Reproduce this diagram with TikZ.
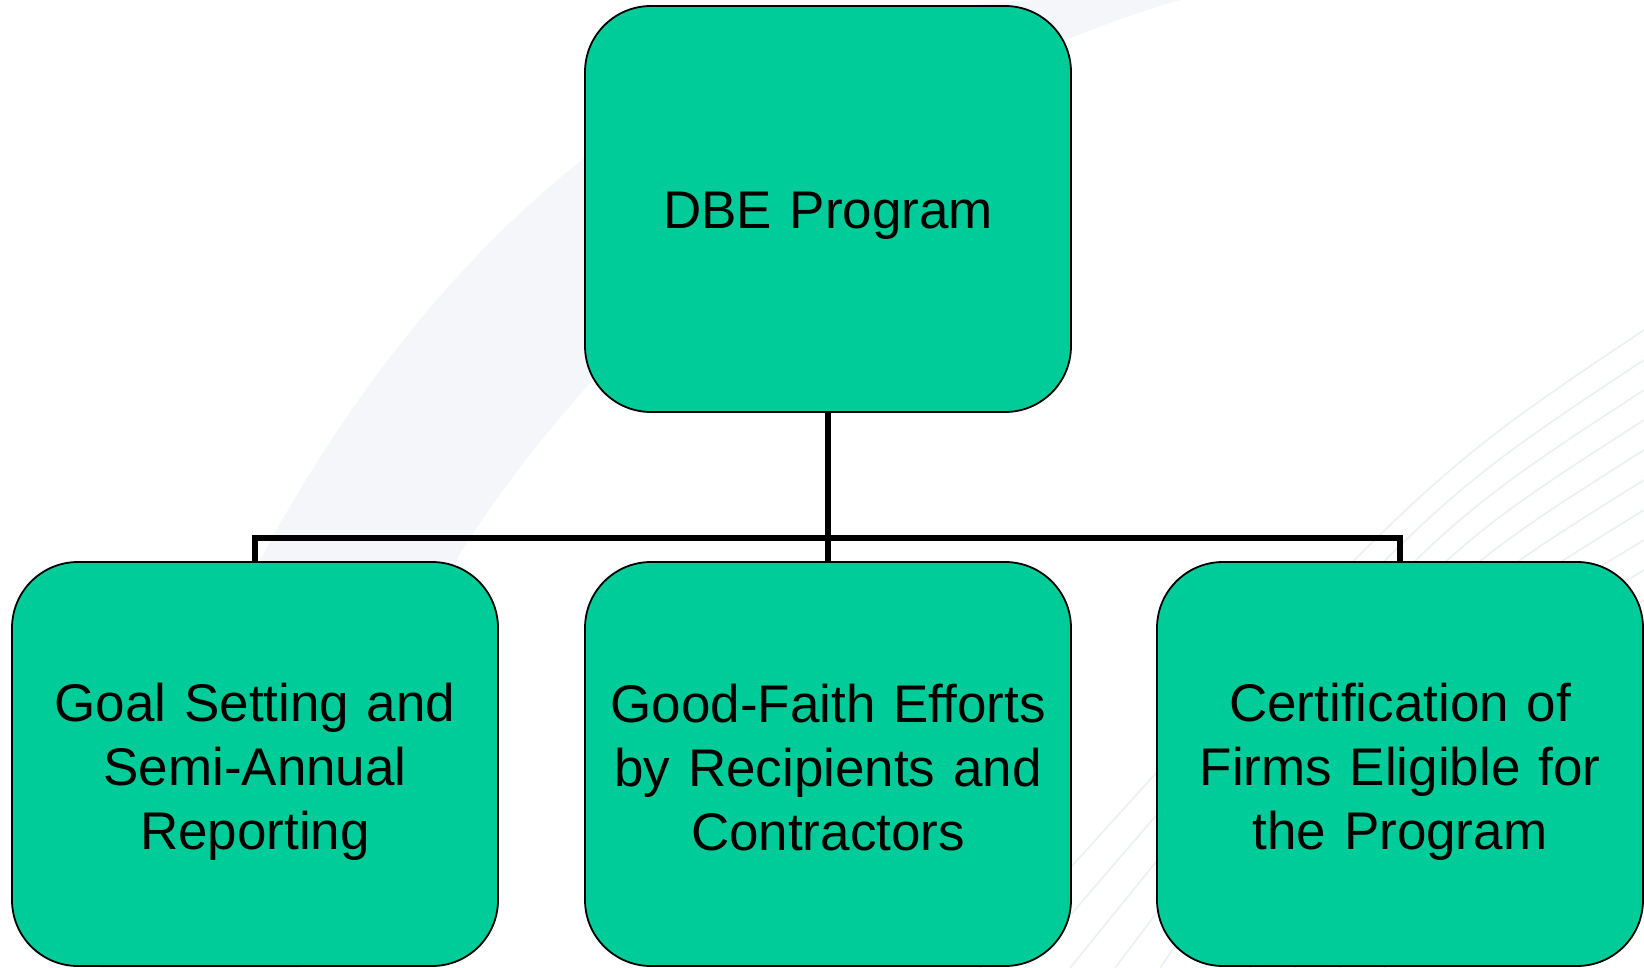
\documentclass[tikz,border=0pt]{standalone}
\usepackage{fontspec}
\setmainfont{Liberation Sans}
\definecolor{boxgreen}{RGB}{0,204,153}
\definecolor{bandgray}{RGB}{244,246,250}
\definecolor{fangray}{RGB}{236,239,245}
\tikzset{
  boxnode/.style={draw=black, line width=1.8pt, fill=boxgreen, rounded corners=66pt,
    minimum width=486pt, inner sep=0pt},
  txt/.style={inner sep=0pt, align=center, text width=470pt,
    font=\fontsize{53}{64}\selectfont},
  conn/.style={draw=black, line width=6pt},
  fanline/.style={draw=fangray, line width=1.6pt}
}
\begin{document}
\begin{tikzpicture}[x=1pt,y=-1pt]
\useasboundingbox (0,0) rectangle (1644,968);
\fill[white] (0,0) rectangle (1644,968);
% faint background swoosh
\fill[bandgray] (100,968) .. controls (200,600) and (400,250) .. (700,80)
  .. controls (850,10) and (1000,0) .. (1050,0) -- (1180,0)
  .. controls (900,80) and (620,300) .. (459,555)
  .. controls (400,700) and (330,850) .. (300,968) -- cycle;
\foreach \i in {0,...,9}{
  \draw[fanline] (1644,330+30*\i) .. controls (1420,480+28*\i) .. (980+45*\i,968);
}
% boxes
\node[boxnode, minimum height=406pt] (top) at (828,209) {};
\node[boxnode, minimum height=404pt] (g1) at (255,764) {};
\node[boxnode, minimum height=404pt] (g2) at (828,764) {};
\node[boxnode, minimum height=404pt] (g3) at (1400,764) {};
% texts
\node[txt] (topt) at ([yshift=-7pt]top.center) {DBE Program};
\node[txt] (g1t) at ([yshift=-8pt]g1.center) {Goal Setting and\\Semi-Annual\\Reporting};
\node[txt] (g2t) at ([yshift=-4pt]g2.center) {Good-Faith Efforts\\by Recipients and\\Contractors};
\node[txt] (g3t) at ([yshift=-8pt]g3.center) {Certification of\\Firms Eligible for\\the Program};
\coordinate (j) at (828,538);
% connectors
\draw[conn] (top.south) -- (g2.north);
\draw[conn] (g1.north) |- (j) -| (g3.north);
\end{tikzpicture}
\end{document}
